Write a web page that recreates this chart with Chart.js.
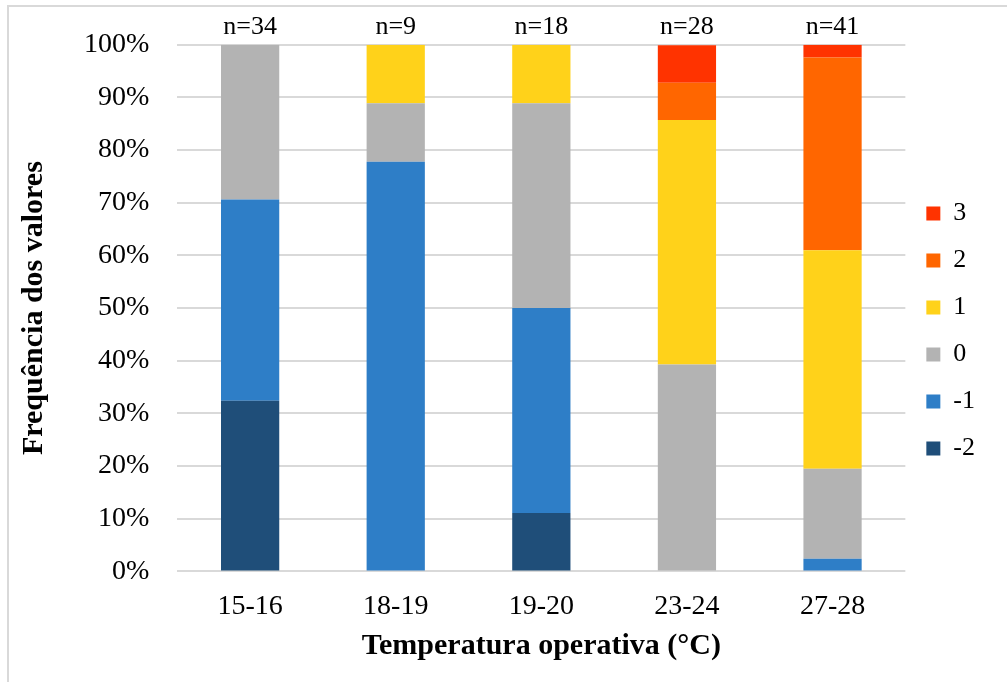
<!DOCTYPE html>
<html>
<head>
<meta charset="utf-8">
<script src="https://cdn.jsdelivr.net/npm/chart.js@4.4.1/dist/chart.umd.min.js"></script>
<style>
  body { margin: 0; background: #fff; }
  #wrap { position: relative; width: 1007px; height: 682px; overflow: hidden; }
  #frame { position: absolute; left: 7px; top: 5px; width: 1100px; height: 800px; border-left: 2px solid #d9d9d9; border-top: 2px solid #d9d9d9; }
  canvas { position: absolute; left: 0; top: 0; }
</style>
</head>
<body>
<div id="wrap">
  <div id="frame"></div>
  <canvas id="chart" width="1007" height="682"></canvas>
</div>
<script>
const categorias = ['15-16', '18-19', '19-20', '23-24', '27-28'];
const totais = [34, 9, 18, 28, 41];

// percentagem de cada voto por faixa de temperatura
const votoMenos2 = [32.4, 0, 11.1, 0, 0];
const votoMenos1 = [38.2, 77.8, 38.9, 0, 2.4];
const voto0 = [29.4, 11.1, 38.9, 39.3, 17.1];
const voto1 = [0, 11.1, 11.1, 46.4, 41.5];
const voto2 = [0, 0, 0, 7.1, 36.6];
const voto3 = [0, 0, 0, 7.1, 2.4];

const fonte = 'Liberation Serif, Times New Roman, serif';

const rotulosN = {
    id: 'rotulosN',
    afterDatasetsDraw(chart) {
        const ctx = chart.ctx;
        const x = chart.scales.x;
        ctx.save();
        ctx.font = '26px ' + fonte;
        ctx.fillStyle = '#000';
        ctx.textAlign = 'center';
        ctx.textBaseline = 'alphabetic';
        totais.forEach((n, i) => {
            ctx.fillText('n=' + n, x.getPixelForValue(i), chart.chartArea.top - 11);
        });
        ctx.restore();
    }
};

new Chart(document.getElementById('chart'), {
    type: 'bar',
    data: {
        labels: categorias,
        datasets: [
            { label: '-2', data: votoMenos2, backgroundColor: '#1f4e79' },
            { label: '-1', data: votoMenos1, backgroundColor: '#2e7ec7' },
            { label: '0', data: voto0, backgroundColor: '#b3b3b3' },
            { label: '1', data: voto1, backgroundColor: '#ffd21a' },
            { label: '2', data: voto2, backgroundColor: '#ff6600' },
            { label: '3', data: voto3, backgroundColor: '#ff3300' }
        ]
    },
    options: {
        responsive: false,
        animation: false,
        layout: { padding: { left: 12, top: 44, right: 22, bottom: 14 } },
        datasets: { bar: { barPercentage: 0.4, categoryPercentage: 1, borderWidth: 0 } },
        scales: {
            x: {
                stacked: true,
                grid: { display: false },
                border: { display: false },
                ticks: { color: '#000', font: { family: fonte, size: 28 }, padding: 10 },
                title: { display: true, text: 'Temperatura operativa (°C)', color: '#000', font: { family: fonte, size: 30, weight: 'bold' }, padding: { top: -5, bottom: 4 } }
            },
            y: {
                stacked: true,
                min: 0,
                max: 100,
                grid: { color: '#d9d9d9', lineWidth: 2, drawTicks: false },
                border: { display: false },
                ticks: { stepSize: 10, color: '#000', font: { family: fonte, size: 28 }, padding: 28, callback: v => v + '%' },
                title: { display: true, text: 'Frequência dos valores', color: '#000', font: { family: fonte, size: 30, weight: 'bold' }, padding: { top: 4, bottom: 4 } }
            }
        },
        plugins: {
            tooltip: { enabled: false },
            legend: {
                position: 'right',
                fullSize: false,
                reverse: true,
                title: { display: true, text: '', font: { size: 20 }, padding: 11 },
                labels: { color: '#000', font: { family: fonte, size: 26 }, boxWidth: 14, boxHeight: 14, padding: 21 }
            }
        }
    },
    plugins: [rotulosN]
});
</script>
</body>
</html>
